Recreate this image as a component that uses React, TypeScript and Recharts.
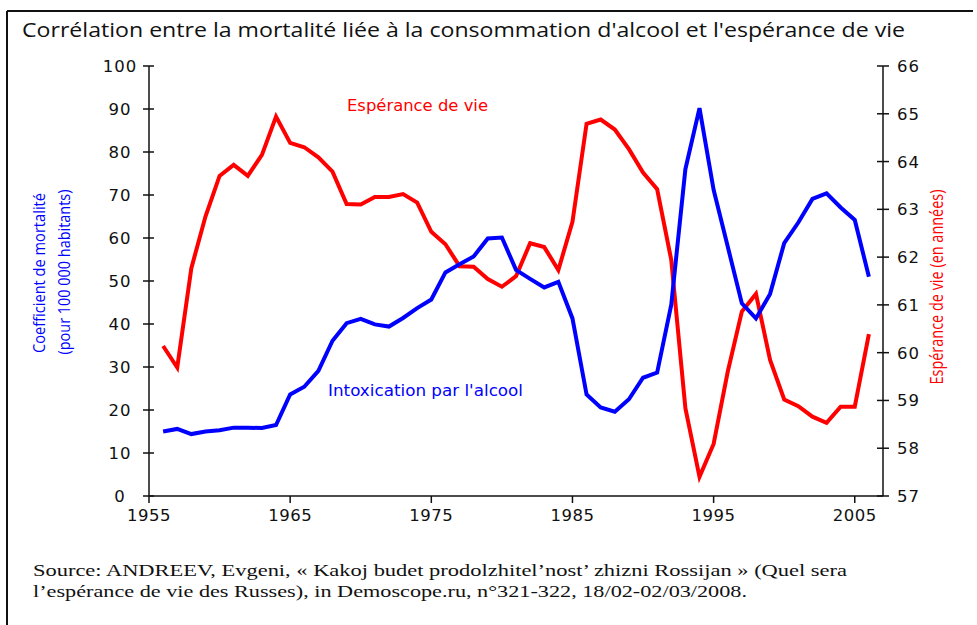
import { LineChart, Line, XAxis, YAxis } from "recharts";

const YEARS = [
  1956, 1957, 1958, 1959, 1960, 1961, 1962, 1963, 1964, 1965,
  1966, 1967, 1968, 1969, 1970, 1971, 1972, 1973, 1974, 1975,
  1976, 1977, 1978, 1979, 1980, 1981, 1982, 1983, 1984, 1985,
  1986, 1987, 1988, 1989, 1990, 1991, 1992, 1993, 1994, 1995,
  1996, 1997, 1998, 1999, 2000, 2001, 2002, 2003, 2004, 2005, 2006,
];

// Intoxication par l'alcool (pour 100 000 habitants)
const MORTALITY = [
  15.0, 15.6, 14.4, 15.0, 15.3, 15.9, 15.9, 15.8, 16.5, 23.6,
  25.4, 29.1, 36.1, 40.2, 41.2, 39.9, 39.4, 41.4, 43.7, 45.7,
  52.0, 53.9, 55.7, 59.9, 60.1, 52.6, 50.5, 48.5, 49.8, 41.3,
  23.6, 20.6, 19.6, 22.5, 27.5, 28.7, 44.5, 76.0, 90.2, 71.2,
  58.0, 44.8, 41.3, 47.0, 58.8, 63.6, 69.1, 70.4, 67.1, 64.2, 51.0,
];

// Espérance de vie (en années)
const LIFE_EXPECTANCY = [
  60.14, 59.69, 61.77, 62.85, 63.70, 63.93, 63.70, 64.14, 64.94, 64.39,
  64.30, 64.09, 63.79, 63.11, 63.10, 63.26, 63.26, 63.32, 63.14, 62.53,
  62.27, 61.81, 61.80, 61.54, 61.38, 61.60, 62.29, 62.21, 61.73, 62.74,
  64.79, 64.88, 64.67, 64.26, 63.77, 63.42, 61.94, 58.84, 57.40, 58.09,
  59.60, 60.86, 61.23, 59.85, 59.02, 58.88, 58.66, 58.53, 58.87, 58.87, 60.39,
];

const X_TICKS = [1955, 1965, 1975, 1985, 1995, 2005];
const LEFT_TICKS = [0, 10, 20, 30, 40, 50, 60, 70, 80, 90, 100];
const RIGHT_TICKS = [57, 58, 59, 60, 61, 62, 63, 64, 65, 66];

const data = YEARS.map((year, i) => ({
  year,
  mortality: MORTALITY[i],
  life: LIFE_EXPECTANCY[i],
}));

const BLUE = "#0000ff";
const RED = "#ff0000";
const INK = "#111";
const TICK_FONT = "'DejaVu Sans', Verdana, sans-serif";
const LABEL_FONT = "'Open Sans', 'Noto Sans', sans-serif";
const TICK = 6;
const GAP = 6;

function LeftTick(props: any) {
  const { x, y, payload } = props;
  const axisX = x + TICK + GAP;
  return (
    <g>
      <line x1={axisX} x2={axisX + 5} y1={y} y2={y} stroke={INK} strokeWidth={1.5} />
      <text x={axisX - 29} y={y} dy={6} textAnchor="middle" fontFamily={TICK_FONT} fontSize={16.5} letterSpacing={1} fill={INK}>
        {payload.value}
      </text>
    </g>
  );
}

function RightTick(props: any) {
  const { x, y, payload } = props;
  const axisX = x - TICK - GAP;
  return (
    <g>
      <line x1={axisX - 6} x2={axisX} y1={y} y2={y} stroke={INK} strokeWidth={1.5} />
      <text x={x + 2} y={y} dy={6} textAnchor="start" fontFamily={TICK_FONT} fontSize={16.5} letterSpacing={1} fill={INK}>
        {payload.value}
      </text>
    </g>
  );
}

function BottomTick(props: any) {
  const { x, y, payload } = props;
  return (
    <text x={x} y={y} dy={14} textAnchor="middle" fontFamily={TICK_FONT} fontSize={16.5} letterSpacing={0.5} fill={INK}>
      {payload.value}
    </text>
  );
}

export default function App() {
  return (
    <div style={{ position: "absolute", left: 0, top: 0, width: 977, height: 625, background: "#fff" }}>
      <LineChart
        width={977}
        height={625}
        data={data}
        margin={{ top: 66, right: 34, bottom: 89, left: 89 }}
      >
        <XAxis
          dataKey="year"
          type="number"
          domain={[1955, 2007]}
          ticks={X_TICKS}
          allowDataOverflow
          height={40}
          tickSize={7}
          tickMargin={4}
          tick={<BottomTick />}
          axisLine={{ stroke: INK, strokeWidth: 1.5 }}
          tickLine={{ stroke: INK, strokeWidth: 1.5 }}
        />
        <YAxis
          yAxisId="left"
          domain={[0, 100]}
          ticks={LEFT_TICKS}
          width={60}
          tickSize={TICK}
          tickMargin={GAP}
          tick={<LeftTick />}
          axisLine={{ stroke: INK, strokeWidth: 1.5 }}
          tickLine={{ stroke: INK, strokeWidth: 1.5 }}
        />
        <YAxis
          yAxisId="right"
          orientation="right"
          domain={[57, 66]}
          ticks={RIGHT_TICKS}
          width={60}
          tickSize={TICK}
          tickMargin={GAP}
          tick={<RightTick />}
          axisLine={{ stroke: INK, strokeWidth: 1.5 }}
          tickLine={{ stroke: INK, strokeWidth: 1.5 }}
        />
        <Line
          yAxisId="right"
          type="linear"
          dataKey="life"
          stroke={RED}
          strokeWidth={4}
          dot={false}
          isAnimationActive={false}
        />
        <Line
          yAxisId="left"
          type="linear"
          dataKey="mortality"
          stroke={BLUE}
          strokeWidth={4}
          dot={false}
          isAnimationActive={false}
        />
      </LineChart>

      <svg
        width={977}
        height={625}
        style={{ position: "absolute", left: 0, top: 0, pointerEvents: "none" }}
      >
        <line x1={7} y1={11} x2={973} y2={11} stroke={INK} strokeWidth={2} />
        <line x1={7} y1={11} x2={7} y2={625} stroke={INK} strokeWidth={2} />

        <text x={22} y={37} fontFamily={LABEL_FONT} fontSize={20} fill={INK} textLength={883} lengthAdjust="spacingAndGlyphs">
          Corrélation entre la mortalité liée à la consommation d'alcool et l'espérance de vie
        </text>

        <text x={347} y={111} fontFamily={TICK_FONT} fontSize={15.5} fill={RED} textLength={141} lengthAdjust="spacingAndGlyphs">
          Espérance de vie
        </text>
        <text x={328} y={396} fontFamily={TICK_FONT} fontSize={15.5} fill={BLUE} textLength={195} lengthAdjust="spacingAndGlyphs">
          Intoxication par l'alcool
        </text>

        <text
          transform="translate(45,273) rotate(-90)"
          textAnchor="middle"
          fontFamily={LABEL_FONT}
          fontSize={17}
          fill={BLUE}
          textLength={160}
          lengthAdjust="spacingAndGlyphs"
        >
          Coefficient de mortalité
        </text>
        <text
          transform="translate(70,272) rotate(-90)"
          textAnchor="middle"
          fontFamily={LABEL_FONT}
          fontSize={17}
          fill={BLUE}
          textLength={165}
          lengthAdjust="spacingAndGlyphs"
        >
          (pour 100 000 habitants)
        </text>
        <text
          transform="translate(943,287) rotate(-90)"
          textAnchor="middle"
          fontFamily={LABEL_FONT}
          fontSize={17.5}
          fill={RED}
          textLength={195}
          lengthAdjust="spacingAndGlyphs"
        >
          Espérance de vie (en années)
        </text>

        <text x={33} y={576} fontFamily="'Liberation Serif', 'Times New Roman', serif" fontSize={17} fill={INK} textLength={814} lengthAdjust="spacingAndGlyphs">
          Source:  ANDREEV, Evgeni, « Kakoj budet prodolzhitel’nost’ zhizni Rossijan » (Quel sera
        </text>
        <text x={33} y={597} fontFamily="'Liberation Serif', 'Times New Roman', serif" fontSize={17} fill={INK} textLength={714} lengthAdjust="spacingAndGlyphs">
          l’espérance de vie des Russes), in Demoscope.ru, n°321-322, 18/02-02/03/2008.
        </text>
      </svg>
    </div>
  );
}
